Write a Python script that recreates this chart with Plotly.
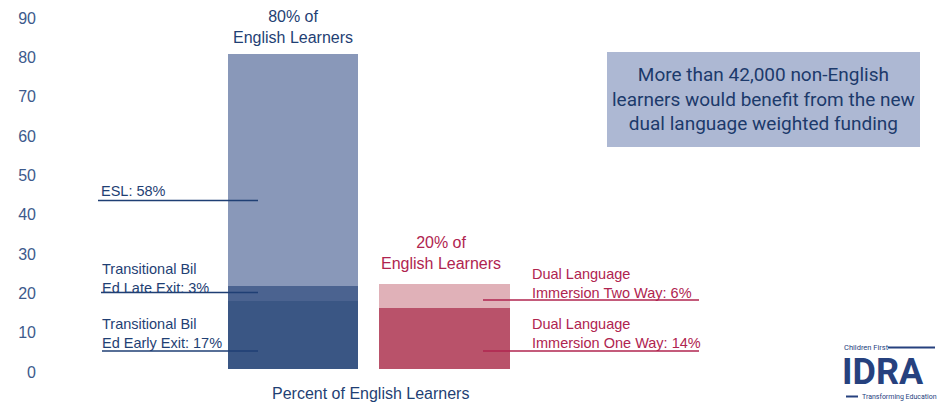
import plotly.graph_objects as go

# ---------------- data ----------------
categories = ["English Learners", "Dual Language"]
early_exit = 17.2      # Transitional Bil Ed Early Exit
late_exit = 4.0        # Transitional Bil Ed Late Exit
esl = 58.8             # ESL
one_way = 15.5         # Dual Language Immersion One Way
two_way = 6.1          # Dual Language Immersion Two Way
y_ticks = [0, 10, 20, 30, 40, 50, 60, 70, 80, 90]

# ---------------- layout helpers ----------------
W, H = 938, 402
L, R, T, B = 40, 928, 15, 369


def px(x):
    return (x - L) / (R - L)


def py(y):
    return (B - y) / (B - T)


BLUE_TXT = "#1f3f74"
PINK_TXT = "#b0244f"
FONT = "Liberation Sans, Arial, sans-serif"

fig = go.Figure()
fig.add_trace(go.Bar(x=[categories[0]], y=[early_exit], marker_color="#3a5684",
                     name="Transitional Bil Ed Early Exit"))
fig.add_trace(go.Bar(x=[categories[0]], y=[late_exit], marker_color="#4b6390",
                     name="Transitional Bil Ed Late Exit"))
fig.add_trace(go.Bar(x=[categories[0]], y=[esl], marker_color="#8998b9",
                     name="ESL"))
fig.add_trace(go.Bar(x=[categories[1]], y=[one_way], marker_color="#b9526a",
                     name="Dual Language Immersion One Way"))
fig.add_trace(go.Bar(x=[categories[1]], y=[two_way], marker_color="#e0b1b8",
                     name="Dual Language Immersion Two Way"))
fig.update_traces(marker_line_width=0, hoverinfo="x+y+name")

annotations = []
shapes = []


def text(x, y, s, color, size=14.5, anchor="left", family=FONT):
    annotations.append(dict(x=px(x), y=py(y), xref="paper", yref="paper", text=s,
                            showarrow=False, xanchor=anchor, yanchor="middle",
                            align=anchor if anchor != "center" else "center",
                            font=dict(family=family, size=size, color=color)))


def line(x0, x1, y, color, width=1.5):
    shapes.append(dict(type="line", xref="paper", yref="paper",
                       x0=px(x0), x1=px(x1), y0=py(y), y1=py(y),
                       line=dict(color=color, width=width)))


# bar headers
text(292.5, 27.5, "80% of<br>English Learners", BLUE_TXT, size=16, anchor="center")
text(441, 252.5, "20% of<br>English Learners", PINK_TXT, size=16, anchor="center")

# left labels
text(99, 191, "ESL: 58%", BLUE_TXT)
line(98, 258, 200.5, BLUE_TXT)
text(100, 278, "Transitional Bil<br>Ed Late Exit: 3%", BLUE_TXT)
line(101, 258, 292.5, BLUE_TXT)
text(100, 333, "Transitional Bil<br>Ed Early Exit: 17%", BLUE_TXT)
line(102, 258, 351, BLUE_TXT)

# right labels
text(530, 283, "Dual Language<br>Immersion Two Way: 6%", PINK_TXT)
line(483, 699, 300, PINK_TXT)
text(530, 333.5, "Dual Language<br>Immersion One Way: 14%", PINK_TXT)
line(483, 699, 351, PINK_TXT)

# x-axis title
text(370, 393, "Percent of English Learners", BLUE_TXT, size=16, anchor="center")

# callout box
shapes.append(dict(type="rect", xref="paper", yref="paper",
                   x0=px(607), x1=px(920), y0=py(147), y1=py(52),
                   fillcolor="#adb8d3", line=dict(width=0), layer="below"))
text(763.5, 99, "More than 42,000 non-English<br>learners would benefit from the new<br>dual language weighted funding",
     "#1c3a6b", size=19, anchor="center", family="Roboto, Liberation Sans, sans-serif")

# logo
LOGO = "#26417e"
LOGO_FONT = "Roboto, Liberation Sans, sans-serif"
text(842, 347, "Children First", LOGO, size=7.5, family=LOGO_FONT)
line(888, 935, 347.5, LOGO, width=2)
annotations.append(dict(x=px(841), y=py(372), xref="paper", yref="paper",
                        text="<b>IDRA</b>", showarrow=False, xanchor="left", yanchor="middle",
                        borderpad=0,
                        font=dict(family=LOGO_FONT, size=36, color=LOGO)))
line(846, 858, 396.5, LOGO, width=2)
text(860, 396.5, "Transforming Education", LOGO, size=7, family=LOGO_FONT)

fig.update_layout(
    width=W, height=H,
    margin=dict(l=L, r=W - R, t=T, b=H - B, autoexpand=False),
    barmode="stack", bargap=0.14,
    showlegend=False,
    plot_bgcolor="white", paper_bgcolor="white",
    xaxis=dict(range=[-1.67, 4.19], showticklabels=False, showgrid=False,
               zeroline=False, showline=False, ticks=""),
    yaxis=dict(range=[0, 90], tickvals=y_ticks, showgrid=False, zeroline=False,
               showline=False, ticks="", ticklabelshift=3, ticklabelstandoff=3,
               tickfont=dict(family=FONT, size=16, color="#3d5a8c")),
    annotations=annotations,
    shapes=shapes,
    font=dict(family=FONT),
)

fig.write_html(
    "out.html",
    config={"displayModeBar": False},
    post_script="document.body.style.margin='0';document.body.style.overflow='hidden';",
)
